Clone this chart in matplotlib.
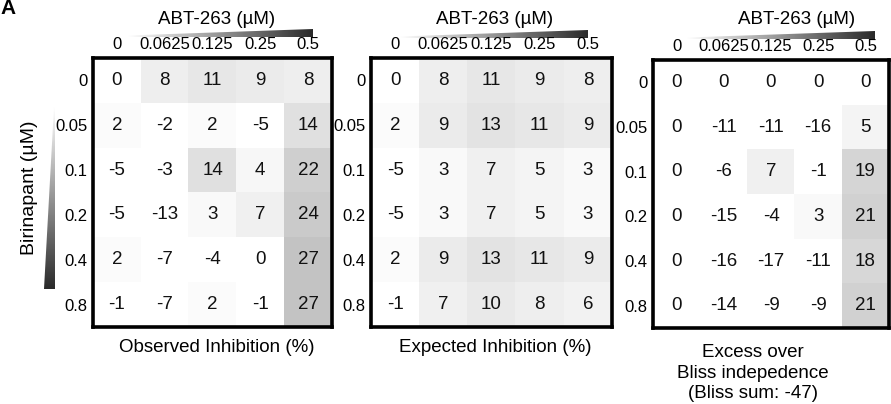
import numpy as np
import matplotlib
matplotlib.use("Agg")
import matplotlib.pyplot as plt
from matplotlib.colors import LinearSegmentedColormap
from matplotlib.patches import Polygon

plt.rcParams['font.family'] = ['Liberation Sans', 'DejaVu Sans']

# data
abt_labels = ['0', '0.0625', '0.125', '0.25', '0.5']
bir_labels = ['0', '0.05', '0.1', '0.2', '0.4', '0.8']

observed = [[0, 8, 11, 9, 8],
            [2, -2, 2, -5, 14],
            [-5, -3, 14, 4, 22],
            [-5, -13, 3, 7, 24],
            [2, -7, -4, 0, 27],
            [-1, -7, 2, -1, 27]]
expected = [[0, 8, 11, 9, 8],
            [2, 9, 13, 11, 9],
            [-5, 3, 7, 5, 3],
            [-5, 3, 7, 5, 3],
            [2, 9, 13, 11, 9],
            [-1, 7, 10, 8, 6]]
excess = [[0, 0, 0, 0, 0],
          [0, -11, -11, -16, 5],
          [0, -6, 7, -1, 19],
          [0, -15, -4, 3, 21],
          [0, -16, -17, -11, 18],
          [0, -14, -9, -9, 21]]

panel_names = ['Observed Inhibition (%)', 'Expected Inhibition (%)',
               'Excess over\nBliss indepedence\n(Bliss sum: -47)']

W, H = 891, 404
fig = plt.figure(figsize=(W / 100, H / 100), dpi=100)

heat_cmap = LinearSegmentedColormap.from_list('wb', ['#ffffff', '#000000'])
grad_cmap = LinearSegmentedColormap.from_list('grad', ['#ffffff', '#2a2a2a'])

# box positions in pixels (left, top, right, bottom)
boxes = [(93, 58, 332, 327), (371, 58, 612, 327), (653, 60, 889, 328)]
# gradient wedges above each box (x0, x1, y_flat, y_top_right)
wedges = [(128, 313, 37, 29), (400, 588, 38, 30), (687, 875, 39, 31)]
title_x = [217, 495, 797]
label_x = [217, 495, 753]

for k, (vals, name) in enumerate(zip([observed, expected, excess], panel_names)):
    l, t, r, b = boxes[k]
    ax = fig.add_axes([l / W, 1 - b / H, (r - l) / W, (b - t) / H])
    data = np.array(vals)
    ax.imshow(np.clip(data, 0, None), cmap=heat_cmap, vmin=0, vmax=115,
              aspect='auto', interpolation='nearest')
    for i in range(data.shape[0]):
        for j in range(data.shape[1]):
            ax.text(j, i, str(data[i, j]), ha='center', va='center',
                    fontsize=13.5, color='#111111')
    ax.xaxis.tick_top()
    ax.set_xticks(range(len(abt_labels)))
    ax.set_xticklabels(abt_labels)
    ax.set_yticks(range(len(bir_labels)))
    ax.set_yticklabels(bir_labels)
    ax.tick_params(length=0, pad=4, labelsize=12)
    for s in ax.spines.values():
        s.set_linewidth(2.6)

# overlay for decorations in pixel coordinates
ov = fig.add_axes([0, 0, 1, 1], zorder=-1)
ov.set_xlim(0, W)
ov.set_ylim(H, 0)
ov.axis('off')

hgrad = np.linspace(0, 1, 256).reshape(1, -1)
for k, (x0, x1, yb, yt) in enumerate(wedges):
    im = ov.imshow(hgrad, cmap=grad_cmap, extent=(x0, x1, yb, yt),
                   aspect='auto')
    poly = Polygon([(x0, yb - 1.5), (x1, yt), (x1, yb), (x0, yb)],
                   closed=True, transform=ov.transData, fc='none', ec='none')
    ov.add_patch(poly)
    im.set_clip_path(poly)
    ov.text(title_x[k], 20, 'ABT-263 (µM)', ha='center', va='center',
            fontsize=13.5)

for k, name in enumerate(panel_names):
    if k < 2:
        ov.text(label_x[k], 348, name, ha='center', va='center', fontsize=13.5)
    else:
        ov.text(label_x[k], 373, name, ha='center', va='center',
                fontsize=13.5, linespacing=1.3)

# vertical wedge for birinapant
vgrad = np.linspace(0, 1, 256).reshape(-1, 1)
vx_flat, vx_left, vy0, vy1 = 55, 44, 107, 289
vim = ov.imshow(vgrad, cmap=grad_cmap, extent=(vx_left, vx_flat, vy1, vy0),
                aspect='auto')
vpoly = Polygon([(vx_flat - 1.5, vy0), (vx_flat, vy0), (vx_flat, vy1),
                 (vx_left, vy1)], closed=True, transform=ov.transData,
                fc='none', ec='none')
ov.add_patch(vpoly)
vim.set_clip_path(vpoly)
ov.text(30, 188, 'Birinapant (µM)', ha='center', va='center', fontsize=14,
        rotation=90)

ov.text(0, 8, 'A', ha='left', va='center', fontsize=15, fontweight='bold')

fig.savefig('out.png', dpi=100)
